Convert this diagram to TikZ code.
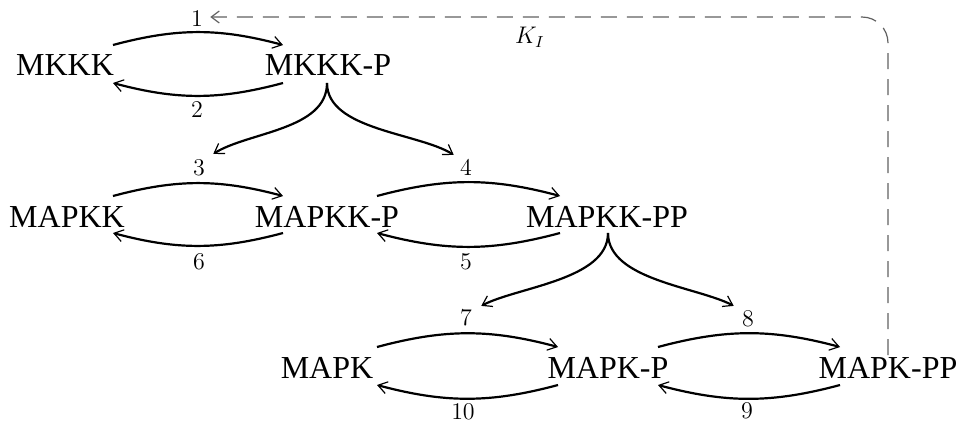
\documentclass[tikz,border=0pt]{standalone}
\usepackage{fontspec}
\newfontfamily\tms{Liberation Serif}
\usetikzlibrary{arrows.meta,calc}
\tikzset{
  sp/.style={anchor=base, inner sep=0pt, font=\tms\fontsize{16}{18}\selectfont},
  lbl/.style={anchor=center, inner sep=0pt, font=\fontsize{11.5}{13}\selectfont},
  rx/.style={line width=1.1pt, -{Straight Barb[length=4.5pt,width=6pt,line width=0.6pt]}},
  br/.style={line width=1.1pt, -{Straight Barb[length=4.5pt,width=6pt,line width=0.6pt]}},
  fb/.style={draw=black!62, line width=0.6pt, dash pattern=on 8pt off 5pt, rounded corners=13pt,
             -{Straight Barb[length=4pt,width=6pt,line width=0.6pt]}}
}
\begin{document}
\begin{tikzpicture}[x=0.5pt,y=-0.5pt]
\useasboundingbox (0,0) rectangle (958,424);
% species
\node[sp] (mkkk)    at (65,75)   {MKKK};
\node[sp] (mkkkp)   at (328,75)  {MKKK-P};
\node[sp] (mapkk)   at (67,227)  {MAPKK};
\node[sp] (mapkkp)  at (327,227) {MAPKK-P};
\node[sp] (mapkkpp) at (607,227) {MAPKK-PP};
\node[sp] (mapk)    at (327,378) {MAPK};
\node[sp] (mapkp)   at (608,378) {MAPK-P};
\node[sp] (mapkpp)  at (888,378) {MAPK-PP};
% reaction labels
\node[lbl] (l1)  at (197,19)  {$1$};
\node[lbl] (l2)  at (197,110) {$2$};
\node[lbl] (l3)  at (199,168) {$3$};
\node[lbl] (l6)  at (199,262) {$6$};
\node[lbl] (l4)  at (466,168) {$4$};
\node[lbl] (l5)  at (466,262) {$5$};
\node[lbl] (l7)  at (466,318) {$7$};
\node[lbl] (l10) at (463,412) {$10$};
\node[lbl] (l8)  at (748,319) {$8$};
\node[lbl] (l9)  at (747,411) {$9$};
\node[lbl] (ki)  at (530,37)  {$K_I$};
% row 1
\draw[rx] ($(mkkk.base)+(48,-30)$) to[bend left=15] ($(mkkkp.base)+(-45,-30)$);
\draw[rx] ($(mkkkp.base)+(-45,8)$) to[bend left=15] ($(mkkk.base)+(48,8)$);
% row 2
\draw[rx] ($(mapkk.base)+(46,-31)$) to[bend left=15] ($(mapkkp.base)+(-44,-31)$);
\draw[rx] ($(mapkkp.base)+(-44,6)$) to[bend left=15] ($(mapkk.base)+(46,6)$);
\draw[rx] ($(mapkkp.base)+(50,-31)$) to[bend left=15] ($(mapkkpp.base)+(-47,-31)$);
\draw[rx] ($(mapkkpp.base)+(-47,6)$) to[bend left=15] ($(mapkkp.base)+(50,6)$);
% row 3
\draw[rx] ($(mapk.base)+(50,-31)$) to[bend left=15] ($(mapkp.base)+(-50,-31)$);
\draw[rx] ($(mapkp.base)+(-50,7)$) to[bend left=15] ($(mapk.base)+(50,7)$);
\draw[rx] ($(mapkp.base)+(50,-31)$) to[bend left=15] ($(mapkpp.base)+(-48,-31)$);
\draw[rx] ($(mapkpp.base)+(-48,7)$) to[bend left=15] ($(mapkp.base)+(50,7)$);
% catalysis branches
\draw[br] ($(mkkkp.base)+(-1,8)$) .. controls +(0,47) and +(35,-22) .. ($(l3.north east)+(8,-6)$);
\draw[br] ($(mkkkp.base)+(-1,8)$) .. controls +(0,47) and +(-35,-22) .. ($(l4.north west)+(-6,-5)$);
\draw[br] ($(mapkkpp.base)+(1,6)$) .. controls +(0,47) and +(36,-19) .. ($(l7.north east)+(9,-4)$);
\draw[br] ($(mapkkpp.base)+(1,6)$) .. controls +(0,47) and +(-36,-19) .. ($(l8.north west)+(-8,-5)$);
% feedback
\draw[fb] ($(mapkpp.base)+(0,-23)$) |- ($(l1.east)+(7,-2)$);
\end{tikzpicture}
\end{document}
